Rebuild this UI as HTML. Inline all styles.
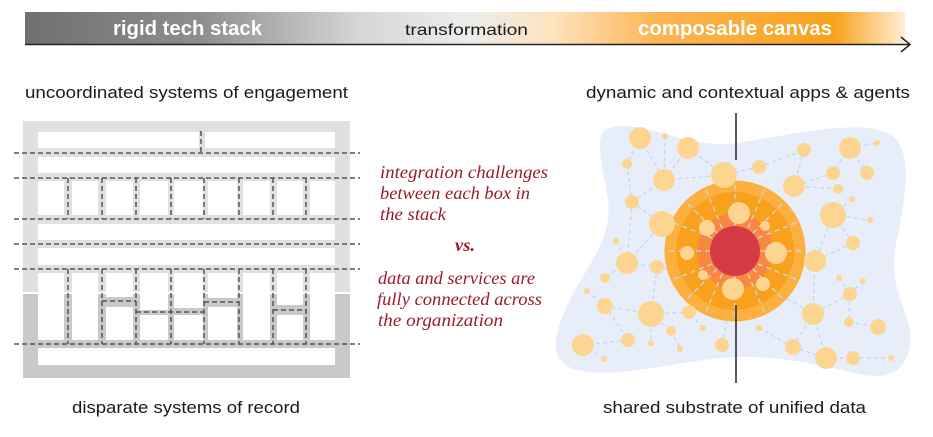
<!DOCTYPE html>
<html><head><meta charset="utf-8"><style>
html,body{margin:0;padding:0;background:#fff;width:933px;height:437px;overflow:hidden}
svg{display:block}
.lbl{font-family:"Liberation Sans",sans-serif;font-size:17px;fill:#1a1a1a}
.it{font-family:"Liberation Serif",serif;font-style:italic;font-size:18px;fill:#9b1b2e}
.d{stroke:#c5d6ee;stroke-width:1.3;stroke-dasharray:4 3;fill:none}
.w{stroke:#c9daf0;stroke-width:1.3;stroke-dasharray:5 4;fill:none}
.c{fill:#fdd590}
.k{stroke:#555;stroke-width:1.5;stroke-dasharray:5 3;fill:none}
</style></head><body>
<svg width="933" height="437" viewBox="0 0 933 437" xmlns="http://www.w3.org/2000/svg">
<defs>
<linearGradient id="g" x1="0" x2="1" y1="0" y2="0">
<stop offset="0" stop-color="#6f6f6f"/>
<stop offset="0.2" stop-color="#8e8e8e"/>
<stop offset="0.38" stop-color="#d6d6d6"/>
<stop offset="0.5" stop-color="#ececec"/>
<stop offset="0.6" stop-color="#fde3bf"/>
<stop offset="0.72" stop-color="#fbb552"/>
<stop offset="0.92" stop-color="#f9a21c"/>
<stop offset="1" stop-color="#fdeed6"/>
</linearGradient>
</defs>
<!-- header -->
<rect x="25" y="12" width="880" height="32" fill="url(#g)"/>
<line x1="25" y1="44.5" x2="910" y2="44.5" stroke="#222" stroke-width="1.5"/>
<polyline points="901,37 910,44.5 901,52" fill="none" stroke="#222" stroke-width="1.5"/>
<text x="113" y="35" font-family="Liberation Sans,sans-serif" font-weight="bold" font-size="20" fill="#fff" textLength="149" lengthAdjust="spacingAndGlyphs">rigid tech stack</text>
<text x="405" y="35" font-family="Liberation Sans,sans-serif" font-size="16" fill="#1a1a1a" textLength="123" lengthAdjust="spacingAndGlyphs">transformation</text>
<text x="638" y="35" font-family="Liberation Sans,sans-serif" font-weight="bold" font-size="20" fill="#fff" textLength="194" lengthAdjust="spacingAndGlyphs">composable canvas</text>

<text class="lbl" x="25" y="98" textLength="323" lengthAdjust="spacingAndGlyphs">uncoordinated systems of engagement</text>
<text class="lbl" x="586" y="98" textLength="324" lengthAdjust="spacingAndGlyphs">dynamic and contextual apps &amp; agents</text>
<text class="lbl" x="72" y="413" textLength="228" lengthAdjust="spacingAndGlyphs">disparate systems of record</text>
<text class="lbl" x="603" y="413" textLength="263" lengthAdjust="spacingAndGlyphs">shared substrate of unified data</text>

<!-- middle text -->
<text class="it" x="380" y="178" textLength="168" lengthAdjust="spacingAndGlyphs">integration challenges</text>
<text class="it" x="380" y="199" textLength="150" lengthAdjust="spacingAndGlyphs">between each box in</text>
<text class="it" x="380" y="220" textLength="66" lengthAdjust="spacingAndGlyphs">the stack</text>
<text class="it" x="455" y="251" font-weight="bold" textLength="20" lengthAdjust="spacingAndGlyphs">vs.</text>
<text class="it" x="378" y="284" textLength="157" lengthAdjust="spacingAndGlyphs">data and services are</text>
<text class="it" x="377" y="305" textLength="165" lengthAdjust="spacingAndGlyphs">fully connected across</text>
<text class="it" x="378" y="326" textLength="125" lengthAdjust="spacingAndGlyphs">the organization</text>

<!-- left stack -->
<rect x="23" y="121" width="327" height="171" fill="#e0e0e0"/>
<rect x="23" y="294" width="327" height="84" fill="#c9c9c9"/>
<rect x="23" y="292" width="15" height="2" fill="#fff"/>
<rect x="335" y="292" width="15" height="2" fill="#fff"/>
<g fill="#fff">
<rect x="38" y="132" width="161" height="16"/><rect x="205" y="132" width="130" height="16"/>
<rect x="38" y="157" width="297" height="16"/>
<rect x="38" y="181" width="26" height="34"/><rect x="72" y="181" width="26" height="34"/><rect x="106" y="181" width="27" height="34"/><rect x="140" y="181" width="28" height="34"/><rect x="174" y="181" width="29" height="34"/><rect x="208" y="181" width="29" height="34"/><rect x="243" y="181" width="27" height="34"/><rect x="277" y="181" width="26" height="34"/><rect x="310" y="181" width="25" height="34"/>
<rect x="38" y="224" width="297" height="16"/>
<rect x="38" y="248" width="297" height="17"/>
<rect x="38" y="273" width="26" height="67"/><rect x="72" y="273" width="26" height="67"/>
<rect x="106" y="273" width="27" height="24"/><rect x="106" y="307" width="27" height="33"/>
<rect x="140" y="273" width="28" height="37"/><rect x="140" y="315" width="28" height="25"/>
<rect x="174" y="273" width="29" height="35"/><rect x="174" y="315" width="29" height="25"/>
<rect x="208" y="273" width="29" height="25"/><rect x="208" y="307" width="29" height="33"/>
<rect x="243" y="273" width="27" height="67"/>
<rect x="277" y="273" width="26" height="32"/><rect x="277" y="315" width="26" height="25"/>
<rect x="310" y="273" width="25" height="67"/>
<rect x="38" y="348" width="297" height="17"/>
</g>
<g class="k">
<line x1="14" y1="153" x2="360" y2="153"/>
<line x1="14" y1="178" x2="360" y2="178"/>
<line x1="14" y1="219" x2="360" y2="219"/>
<line x1="14" y1="244" x2="360" y2="244"/>
<line x1="14" y1="269" x2="360" y2="269"/>
<line x1="14" y1="344" x2="360" y2="344"/>
<line x1="201" y1="131" x2="201" y2="153"/>
<path d="M68 178V219M102 178V219M136 178V219M171 178V219M204 178V219M239 178V219M273 178V219M306 178V219"/>
<path d="M68 269V344M102 269V344M136 269V344M171 269V344M204 269V344M239 269V344M273 269V344M306 269V344"/>
<path d="M102 301H136M136 312H204M204 302H239M273 310H306"/>
</g>

<!-- right blob -->
<path d="M608 128 C640 118 690 150 736 143 C790 135 860 118 890 134 C915 150 905 200 895 250 C888 290 915 320 910 345 C905 378 880 380 850 372 C810 362 770 356 737 357 C690 358 620 380 577 370 C545 362 555 330 570 300 C590 260 612 240 608 200 C604 170 592 135 608 128 Z" fill="#e8eef9"/>
<g class="d">
<path d="M640 138L627 164M640 138L664 180M665 136L664 180M688 148L664 180M688 148L724 175M627 164L632 202M664 180L632 202M664 180L724 175M632 202L662 224M632 202L627 263M662 224L627 263M662 224L707 228M616 241L627 263M627 263L605 278M627 263L657 267M657 267L651 314M605 306L651 314M587 291L605 306M605 306L628 340M628 340L583 345M583 345L604 359M651 314L651 343M651 314L671 331M651 314L689 312M671 331L680 349M689 312L703 275M703 275L657 267M722 345L733 289M703 328L689 312"/>
<path d="M759 167L724 175M759 167L804 150M804 150L794 186M850 148L833 173M850 148L877 143M850 148L867 173M833 173L794 186M838 189L794 186M852 199L833 215M833 215L870 220M833 215L815 261M853 243L815 261M853 243L833 215M815 261L813 314M863 281L850 294M839 278L850 294M850 294L849 322M850 294L813 314M813 314L826 358M849 322L878 327M826 358L853 358M853 358L891 358M793 347L813 314M793 347L759 328M793 347L826 358M763 284L813 314"/>
</g>
<circle cx="735" cy="251" r="70.5" fill="#fbb03f"/>
<circle cx="735" cy="251" r="59" fill="#f9a11d"/>
<circle cx="735" cy="251" r="38" fill="#f8883f"/>
<g class="w">
<path d="M735 226V181M735 276V321M710 251H665M760 251H805M753 233L785 201M717 233L685 201M753 269L785 301M717 269L685 301M748 228L765 188M722 228L705 188M748 274L765 314M722 274L705 314M712 238L672 222M758 238L798 222M712 264L672 280M758 264L798 280"/>
</g>
<circle cx="735" cy="251" r="25" fill="#d73a47"/>
<g class="c">
<circle cx="640" cy="138" r="11"/><circle cx="665" cy="136" r="3"/><circle cx="688" cy="148" r="11"/><circle cx="627" cy="164" r="5"/><circle cx="664" cy="180" r="11"/><circle cx="724" cy="175" r="13"/><circle cx="759" cy="167" r="7"/><circle cx="804" cy="150" r="7"/><circle cx="850" cy="148" r="11"/><circle cx="877" cy="143" r="3"/><circle cx="833" cy="173" r="7"/><circle cx="867" cy="173" r="7"/><circle cx="794" cy="186" r="11"/><circle cx="838" cy="189" r="5"/><circle cx="852" cy="199" r="3"/><circle cx="833" cy="215" r="13"/><circle cx="870" cy="220" r="3"/><circle cx="632" cy="202" r="7"/><circle cx="662" cy="224" r="13"/><circle cx="739" cy="213" r="11"/><circle cx="707" cy="228" r="8"/><circle cx="765" cy="226" r="5"/><circle cx="687" cy="253" r="7"/><circle cx="776" cy="253" r="11"/><circle cx="815" cy="261" r="11"/><circle cx="853" cy="243" r="7"/><circle cx="616" cy="241" r="3"/><circle cx="627" cy="263" r="11"/><circle cx="657" cy="267" r="7"/><circle cx="703" cy="275" r="5"/><circle cx="763" cy="284" r="7"/><circle cx="733" cy="289" r="11"/><circle cx="605" cy="278" r="5"/><circle cx="839" cy="278" r="3"/><circle cx="863" cy="281" r="3"/><circle cx="850" cy="294" r="7"/><circle cx="587" cy="291" r="3"/><circle cx="605" cy="306" r="8"/><circle cx="651" cy="314" r="13"/><circle cx="689" cy="312" r="7"/><circle cx="813" cy="314" r="11"/><circle cx="849" cy="322" r="5"/><circle cx="878" cy="327" r="8"/><circle cx="671" cy="331" r="5"/><circle cx="703" cy="328" r="3"/><circle cx="759" cy="328" r="3"/><circle cx="628" cy="340" r="7"/><circle cx="583" cy="345" r="11"/><circle cx="651" cy="343" r="3"/><circle cx="680" cy="349" r="3"/><circle cx="722" cy="345" r="7"/><circle cx="793" cy="347" r="8"/><circle cx="826" cy="358" r="11"/><circle cx="853" cy="358" r="7"/><circle cx="891" cy="358" r="3"/><circle cx="604" cy="359" r="3"/>
</g>
<line x1="736" y1="113" x2="736" y2="160" stroke="#222" stroke-width="1.5"/>
<line x1="736" y1="305" x2="736" y2="383" stroke="#222" stroke-width="1.5"/>
</svg>
</body></html>
